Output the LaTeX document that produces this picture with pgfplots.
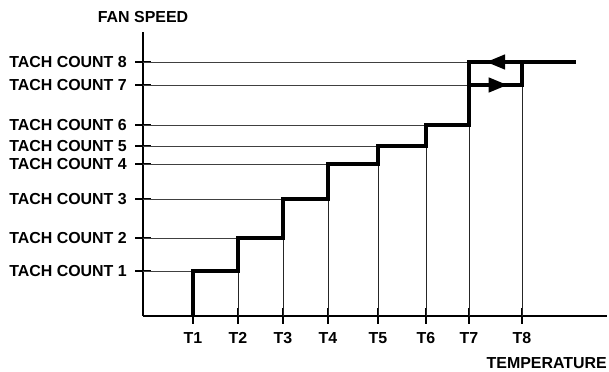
\documentclass[border=0pt]{standalone}
\usepackage{pgfplots}
\pgfplotsset{compat=1.18}
\usepackage{fontspec}
\setmainfont{Liberation Sans}
\usetikzlibrary{arrows.meta,decorations.markings}
\newcommand{\lbl}{\fontsize{16}{19}\selectfont\bfseries}
\begin{document}
\begin{tikzpicture}
\path[use as bounding box] (0,0) rectangle (609bp,372bp);
\begin{axis}[
  at={(143bp,56bp)}, anchor=south west,
  scale only axis, width=464bp, height=284bp,
  xmin=0, xmax=464, ymin=0, ymax=284,
  clip=false,
  axis lines=left,
  axis line style={-, line width=1.6bp},
  tick align=center,
  major tick length=15bp,
  tick style={line width=1.3bp, black},
  xtick={50,95,140,185,235,283,326,379},
  xticklabels={T1,T2,T3,T4,T5,T6,T7,T8},
  ytick={45,78,117,152,170,191,231,254},
  yticklabels={TACH COUNT 1,TACH COUNT 2,TACH COUNT 3,TACH COUNT 4,TACH COUNT 5,TACH COUNT 6,TACH COUNT 7,TACH COUNT 8},
  xticklabel style={font=\lbl, anchor=north, inner sep=0pt, yshift=-9bp},
  yticklabel style={font=\lbl, anchor=east, inner sep=0pt, xshift=-8.5bp},
]
% thin horizontal guide lines
\addplot[black!75, line width=0.9bp] coordinates {(0,45) (50,45)};
\addplot[black!75, line width=0.9bp] coordinates {(0,78) (95,78)};
\addplot[black!75, line width=0.9bp] coordinates {(0,117) (140,117)};
\addplot[black!75, line width=0.9bp] coordinates {(0,152) (185,152)};
\addplot[black!75, line width=0.9bp] coordinates {(0,170) (235,170)};
\addplot[black!75, line width=0.9bp] coordinates {(0,191) (283,191)};
\addplot[black!75, line width=0.9bp] coordinates {(0,231) (326,231)};
\addplot[black!75, line width=0.9bp] coordinates {(0,254) (326,254)};
% thin vertical guide lines
\addplot[black!85, line width=0.9bp] coordinates {(95,0) (95,45)};
\addplot[black!85, line width=0.9bp] coordinates {(140,0) (140,78)};
\addplot[black!85, line width=0.9bp] coordinates {(185,0) (185,117)};
\addplot[black!85, line width=0.9bp] coordinates {(235,0) (235,152)};
\addplot[black!85, line width=0.9bp] coordinates {(283,0) (283,170)};
\addplot[black!85, line width=0.9bp] coordinates {(326,0) (326,191)};
\addplot[black!85, line width=0.9bp] coordinates {(379,0) (379,231)};
% thick step curve
\addplot[black, line width=3.6bp, line join=miter] coordinates {
 (50,0) (50,45) (95,45) (95,78) (140,78) (140,117) (185,117) (185,152)
 (235,152) (235,170) (283,170) (283,191) (326,191) (326,254) (433,254)};
\addplot[black, line width=3.6bp, line join=miter,
  postaction={decorate},
  decoration={markings, mark=at position 0.44 with {\fill[black] (0,0) -- (-12bp,5bp) -- (-12bp,-5bp) -- cycle;}}]
  coordinates {(326,231) (379,231) (379,254)};
\addplot[black, line width=3.6bp,
  postaction={decorate},
  decoration={markings, mark=at position 0.58 with {\fill[black] (0,0) -- (-12bp,5bp) -- (-12bp,-5bp) -- cycle;}}]
  coordinates {(379,254) (326,254)};
\node[anchor=base, inner sep=0pt, font=\lbl] at (axis description cs:0,1) [yshift=9.5bp] {FAN SPEED};
\node[anchor=base east, inner sep=0pt, font=\lbl] at (axis description cs:1,0) [yshift=-52bp] {TEMPERATURE};
\end{axis}
\end{tikzpicture}
\end{document}
